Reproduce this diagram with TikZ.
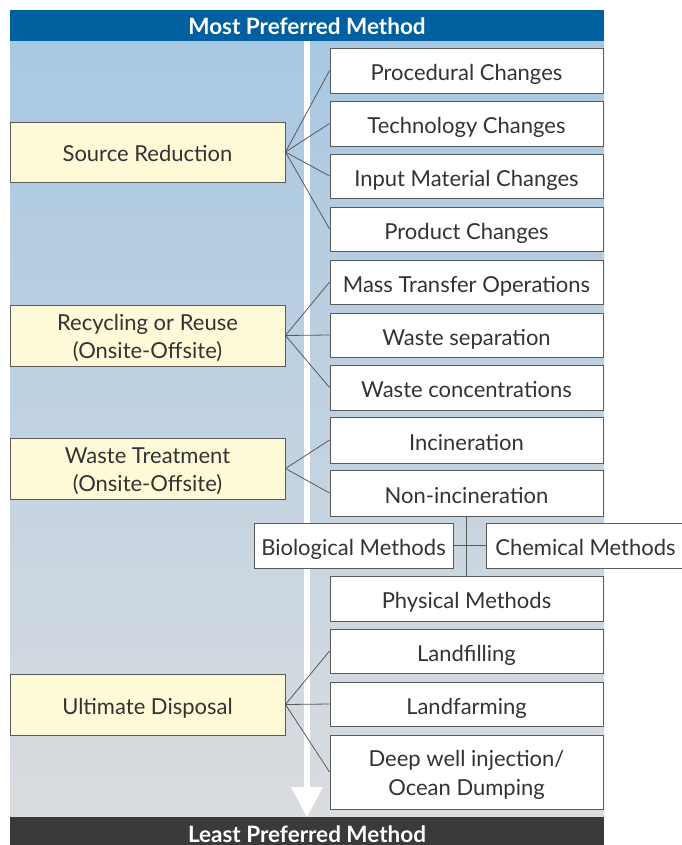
\documentclass[tikz,border=0pt]{standalone}
\usepackage{fontspec}
\setmainfont{Lato}
\definecolor{topblue}{RGB}{0,96,160}
\definecolor{barDark}{RGB}{58,58,58}
\definecolor{panelTop}{RGB}{168,200,226}
\definecolor{panelBot}{RGB}{218,220,223}
\definecolor{creamFill}{RGB}{254,250,216}
\definecolor{edgeGray}{RGB}{90,90,90}
\definecolor{txtGray}{RGB}{51,51,51}
\tikzset{
  x=1pt, y=-1pt,
  basebox/.style={draw=edgeGray, line width=0.9pt, inner sep=0pt},
  catbox/.style={basebox, fill=creamFill},
  itembox/.style={basebox, fill=white},
  boxtext/.style={text=txtGray, font=\fontsize{22}{28.5}\selectfont,
    align=center, inner sep=0pt, anchor=base},
  link/.style={draw=edgeGray, line width=0.8pt},
  bartext/.style={text=white, font=\bfseries\fontsize{22.5}{26}\selectfont,
    anchor=base}
}
% box from corner (x1,y1) to (x2,y2) in pixel units, with its text;
% the last argument is the drop of the last text baseline below the centre
\newcommand{\pbox}[8]{%
  \node[#1, minimum width=#4-#2, minimum height=#5-#3] (#6) at ({(#2+#4)/2},{(#3+#5)/2}) {};
  \node[boxtext, yshift=-#8pt] (#6-t) at (#6.center) {#7};}
\begin{document}
\begin{tikzpicture}
\useasboundingbox (0,0) rectangle (681,845);
\fill[white] (0,0) rectangle (681,845);
% shaded panel
\shade[top color=panelTop, bottom color=panelBot] (10,41) rectangle (604,818);
% heading bars
\fill[topblue] (10,10) rectangle (604,41);
\node[bartext] (most) at (307,34.5) {Most Preferred Method};
\fill[barDark] (10,817) rectangle (604,845);
\node[bartext] (least) at (307,842) {Least Preferred Method};
% downward arrow
\fill[white] (303.5,41) rectangle (310,788);
\fill[white] (291,787) -- (323,787) -- (307,817) -- cycle;

% categories
\pbox{catbox}{10}{122}{285}{182}{src}{Source Reduction}{9.5}
\pbox{catbox}{10}{305}{285}{366}{rec}{Recycling or Reuse\\(Onsite-Offsite)}{23}
\pbox{catbox}{10}{438}{285}{499}{trt}{Waste Treatment\\(Onsite-Offsite)}{23}
\pbox{catbox}{10}{674}{285}{735}{ult}{Ultimate Disposal}{9.5}

% options
\pbox{itembox}{330}{48}{603}{93}{proc}{Procedural Changes}{10}
\pbox{itembox}{330}{101}{603}{146}{tech}{Technology Changes}{10}
\pbox{itembox}{330}{154}{603}{198}{inp}{Input Material Changes}{10}
\pbox{itembox}{330}{207}{603}{251}{prod}{Product Changes}{10}
\pbox{itembox}{330}{260}{603}{304}{mass}{Mass Transfer Operations}{10}
\pbox{itembox}{330}{313}{603}{357}{sep}{Waste separation}{10}
\pbox{itembox}{330}{365}{603}{410}{conc}{Waste concentrations}{10}
\pbox{itembox}{330}{417}{603}{463}{inc}{Incineration}{10}
\pbox{itembox}{330}{470}{603}{516}{noninc}{Non-incineration}{10}
\pbox{itembox}{254}{523}{453}{568}{bio}{Biological Methods}{10}
\pbox{itembox}{486}{523}{685}{568}{chem}{Chemical Methods}{10}
\pbox{itembox}{330}{576}{603}{621}{phys}{Physical Methods}{10}
\pbox{itembox}{330}{629}{603}{673}{fill}{Landfilling}{10}
\pbox{itembox}{330}{682}{603}{726}{farm}{Landfarming}{10}
\pbox{itembox}{330}{735}{603}{809}{deep}{Deep well injection/\\Ocean Dumping}{23}

% connectors
\foreach \t in {proc,tech,inp,prod} \draw[link] (src.east) -- (\t.west);
\foreach \t in {mass,sep,conc} \draw[link] (rec.east) -- (\t.west);
\foreach \t in {inc,noninc} \draw[link] (trt.east) -- (\t.west);
\foreach \t in {fill,farm,deep} \draw[link] (ult.east) -- (\t.west);
\draw[link] (noninc.south) -- (phys.north);
\draw[link] (bio.east) -- (chem.west);
\end{tikzpicture}
\end{document}
